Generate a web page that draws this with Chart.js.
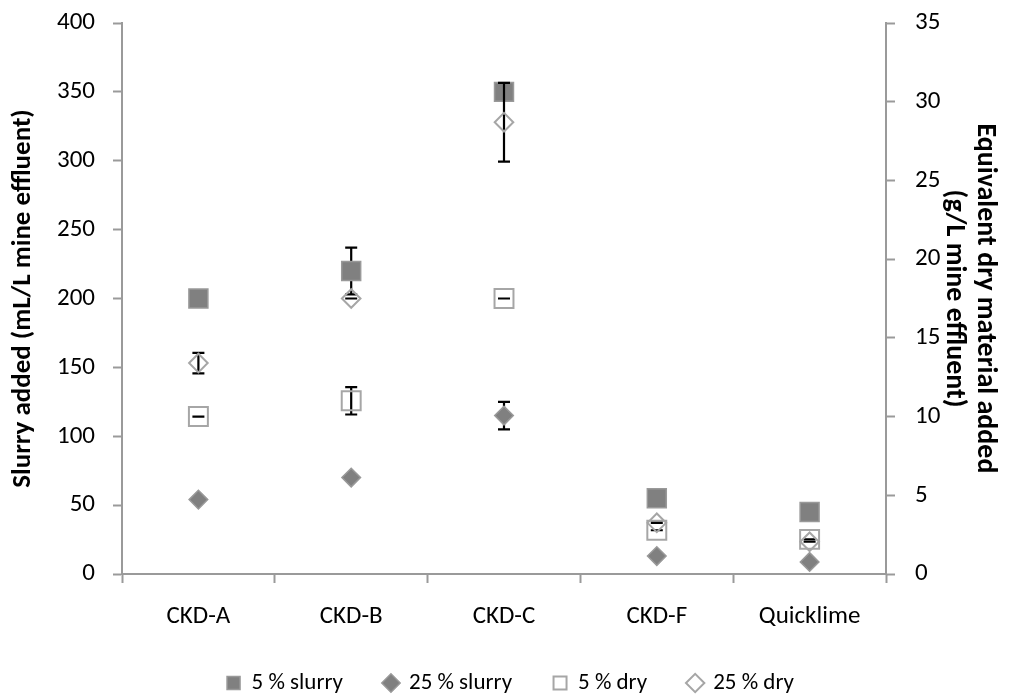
<!DOCTYPE html>
<html>
<head>
<meta charset="utf-8">
<title>Neutralising agent dose</title>
<script src="https://cdn.jsdelivr.net/npm/chart.js@4/dist/chart.umd.min.js"></script>
<style>
  html, body { margin: 0; padding: 0; background: #ffffff; }
  #wrap { width: 1021px; height: 698px; }
</style>
</head>
<body>
<div id="wrap"><canvas id="chart" width="1021" height="698"></canvas></div>
<script>
// Materials tested
const categories = ['CKD-A', 'CKD-B', 'CKD-C', 'CKD-F', 'Quicklime'];

// Slurry volume added (mL/L mine effluent), left axis
const slurry5 = [200, 220, 350, 55, 45];
const slurry25 = [54, 70, 115, 13, 8.75];

// Equivalent dry material added (g/L mine effluent), right axis
const dry5 = [10, 11, 17.5, 2.78, 2.2];
const dry25 = [13.4, 17.5, 28.7, 3.25, 2.05];

// Error bar half-widths, same units as the series
const slurry5Err = [0, 17, 0, 0, 0];
const slurry25Err = [0, 0, 10, 0, 0];
const dry5Err = [0, 0.87, 0, 0, 0];
const dry25Err = [0.65, 0, 2.5, 0, 0];

// Axis ranges
const leftAxis = { min: 0, max: 400, step: 50 };
const rightAxis = { min: 0, max: 35, step: 5 };

const FONT = 'Carlito, Lato, "Open Sans", sans-serif';
const AXIS_GREY = '#9a9a9a';
const FILL_GREY = '#808080';
const EDGE_GREY = '#a6a6a6';

// Vertical error bars with caps, drawn just before each dataset's markers
const errorBars = {
  id: 'errorBars',
  beforeDatasetDraw(chart, args) {
    const ds = chart.data.datasets[args.index];
    if (!ds.errors) return;
    const meta = args.meta;
    const yScale = chart.scales[meta.yAxisID];
    const ctx = chart.ctx;
    ctx.save();
    ctx.strokeStyle = '#000000';
    ctx.lineWidth = 2.2;
    meta.data.forEach((pt, i) => {
      const v = ds.data[i];
      const e = ds.errors[i];
      if (v === null || e === null || e === undefined) return;
      const x = pt.x;
      const yTop = yScale.getPixelForValue(v + e);
      const yBot = yScale.getPixelForValue(v - e);
      ctx.beginPath();
      ctx.moveTo(x, yTop); ctx.lineTo(x, yBot);
      ctx.moveTo(x - 6, yTop); ctx.lineTo(x + 6, yTop);
      ctx.moveTo(x - 6, yBot); ctx.lineTo(x + 6, yBot);
      ctx.stroke();
    });
    ctx.restore();
  }
};

function series(label, data, errors, axis, style, filled, order) {
  const isRect = style === 'rect';
  return {
    label,
    data,
    errors,
    yAxisID: axis,
    showLine: false,
    order,
    pointStyle: style,
    pointRadius: isRect ? 13.4 : 9.3,
    pointHoverRadius: isRect ? 13.4 : 9.3,
    pointBackgroundColor: filled ? FILL_GREY : 'rgba(255,255,255,0)',
    pointBorderColor: filled ? '#999999' : EDGE_GREY,
    pointBorderWidth: filled ? 1.5 : 2,
    backgroundColor: filled ? FILL_GREY : 'rgba(255,255,255,0)',
    borderColor: filled ? '#999999' : EDGE_GREY
  };
}

// Fixed axis box sizes; the value axes do not reserve extra room above the plot
function fixWidth(w) {
  return function (scale) {
    scale.width = w;
    scale.paddingTop = 0;
    scale.paddingBottom = 0;
  };
}

new Chart(document.getElementById('chart'), {
  type: 'line',
  data: {
    labels: categories,
    datasets: [
      series('5 % slurry', slurry5, slurry5Err, 'y', 'rect', true, 4),
      series('25 % slurry', slurry25, slurry25Err, 'y', 'rectRot', true, 3),
      series('5 % dry', dry5, dry5Err, 'y1', 'rect', false, 2),
      series('25 % dry', dry25, dry25Err, 'y1', 'rectRot', false, 1)
    ]
  },
  options: {
    responsive: false,
    animation: false,
    layout: { padding: { top: 23, right: 0, bottom: -6.5, left: 0 } },
    plugins: {
      tooltip: { enabled: false },
      legend: {
        position: 'bottom',
        reverse: true,
        labels: {
          usePointStyle: true,
          boxWidth: 13,
          boxHeight: 13,
          padding: 41.5,
          color: '#000000',
          font: { family: FONT, size: 23 }
        }
      }
    },
    scales: {
      x: {
        type: 'category',
        offset: true,
        grid: {
          offset: true,
          drawOnChartArea: false,
          drawTicks: true,
          tickLength: 9,
          tickWidth: 2,
          tickColor: AXIS_GREY
        },
        border: { color: AXIS_GREY, width: 2 },
        ticks: {
          color: '#000000',
          padding: 19,
          maxRotation: 0,
          font: { family: FONT, size: 25 }
        },
        afterFit(scale) { scale.height = 56; }
      },
      y: {
        position: 'left',
        min: leftAxis.min,
        max: leftAxis.max,
        grid: {
          drawOnChartArea: false,
          drawTicks: true,
          tickLength: 9,
          tickWidth: 2,
          tickColor: AXIS_GREY
        },
        border: { color: AXIS_GREY, width: 2 },
        ticks: {
          stepSize: leftAxis.step,
          color: '#000000',
          padding: 18,
          font: { family: FONT, size: 25 }
        },
        title: {
          display: true,
          text: 'Slurry added (mL/L mine effluent)',
          color: '#000000',
          font: { family: FONT, size: 27, weight: 'bold', lineHeight: 1.2 },
          padding: { top: 7, bottom: 0 }
        },
        afterFit: fixWidth(122)
      },
      y1: {
        position: 'right',
        min: rightAxis.min,
        max: rightAxis.max,
        grid: {
          drawOnChartArea: false,
          drawTicks: true,
          tickLength: 9,
          tickWidth: 2,
          tickColor: AXIS_GREY
        },
        border: { color: AXIS_GREY, width: 2 },
        ticks: {
          stepSize: rightAxis.step,
          color: '#000000',
          padding: 20,
          font: { family: FONT, size: 25 }
        },
        title: {
          display: true,
          text: ['Equivalent dry material added', '(g/L mine effluent)'],
          color: '#000000',
          font: { family: FONT, size: 28, weight: 'bold', lineHeight: 1.1 },
          padding: { top: 20.5, bottom: 0 }
        },
        afterFit: fixWidth(135)
      }
    }
  },
  plugins: [errorBars]
});
</script>
</body>
</html>
